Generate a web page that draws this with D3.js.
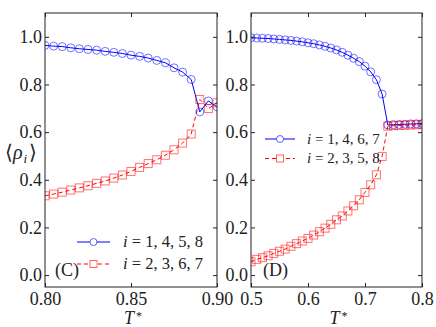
<!DOCTYPE html>
<html>
<head>
<meta charset="utf-8">
<script src="https://cdn.jsdelivr.net/npm/d3@7"></script>
<style>
  body { margin: 0; background: #fff; }
</style>
</head>
<body>
<svg id="chart" width="436" height="327"></svg>
<script>
// panel C data
var tC = [0.800, 0.805, 0.810, 0.815, 0.820, 0.825, 0.830, 0.835, 0.840, 0.845, 0.850,
          0.855, 0.860, 0.865, 0.870, 0.875, 0.880, 0.885, 0.890, 0.895, 0.900];
var blueC = [0.964, 0.961, 0.959, 0.954, 0.950, 0.947, 0.944, 0.939, 0.935, 0.930, 0.923,
             0.918, 0.911, 0.901, 0.891, 0.870, 0.852, 0.821, 0.685, 0.731, 0.706];
var redC = [0.333, 0.340, 0.348, 0.357, 0.366, 0.375, 0.385, 0.395, 0.407, 0.420, 0.435,
            0.452, 0.468, 0.484, 0.503, 0.526, 0.554, 0.592, 0.737, 0.699, 0.723];

// panel D data
var tD = [0.50, 0.51, 0.52, 0.53, 0.54, 0.55, 0.56, 0.57, 0.58, 0.59, 0.60,
          0.61, 0.62, 0.63, 0.64, 0.65, 0.66, 0.67, 0.68, 0.69, 0.70,
          0.71, 0.72, 0.73, 0.74, 0.75, 0.76, 0.77, 0.78, 0.79, 0.80];
var blueD = [0.996, 0.995, 0.994, 0.993, 0.991, 0.989, 0.987, 0.985, 0.982, 0.979, 0.975,
             0.971, 0.966, 0.960, 0.953, 0.945, 0.935, 0.923, 0.910, 0.896, 0.877,
             0.853, 0.820, 0.760, 0.630, 0.631, 0.632, 0.633, 0.634, 0.635, 0.636];
var redD = [0.056, 0.066, 0.073, 0.081, 0.091, 0.100, 0.109, 0.121, 0.132, 0.143, 0.154,
            0.168, 0.182, 0.197, 0.213, 0.232, 0.248, 0.269, 0.291, 0.316, 0.347,
            0.379, 0.421, 0.498, 0.625, 0.627, 0.628, 0.629, 0.630, 0.631, 0.632];

var yTicks = [0.0, 0.2, 0.4, 0.6, 0.8, 1.0];
var xTicksC = [0.80, 0.85, 0.90];
var xTicksD = [0.5, 0.6, 0.7, 0.8];
var legendC = ["1, 4, 5, 8", "2, 3, 6, 7"];
var legendD = ["1, 4, 6, 7", "2, 3, 5, 8"];

var FONT = "Liberation Serif";
var svg = d3.select("#chart");
var top_ = 13, bottom = 287;
var blue = "#0000ff", red = "#ff0000";

var y = d3.scaleLinear().domain([-0.05, 1.1]).range([bottom, top_]);

function txt(sel, size) {
    return sel.append("text").attr("font-family", FONT).attr("font-size", size).attr("fill", "#222");
}

function panel(id, x0, x1, xdom, xticks, xfmt, ts, blueV, redV, labels, leg, tag, tagX) {
    var x = d3.scaleLinear().domain(xdom).range([x0, x1]);
    var g = svg.append("g");

    g.append("clipPath").attr("id", "clip" + id)
        .append("rect").attr("x", x0).attr("y", top_).attr("width", x1 - x0).attr("height", bottom - top_);

    var plot = g.append("g").attr("clip-path", "url(#clip" + id + ")");

    var line = d3.line().x((d, i) => x(ts[i])).y(d => y(d));

    plot.append("path").datum(blueV)
        .attr("d", line).attr("fill", "none").attr("stroke", blue).attr("stroke-width", 1);
    plot.append("path").datum(redV)
        .attr("d", line).attr("fill", "none").attr("stroke", red).attr("stroke-width", 1)
        .attr("stroke-dasharray", "4,3");

    plot.selectAll(".c").data(blueV).join("circle")
        .attr("cx", (d, i) => x(ts[i])).attr("cy", d => y(d)).attr("r", 4)
        .attr("fill", "none").attr("stroke", blue).attr("stroke-opacity", 0.55);
    plot.selectAll(".s").data(redV).join("rect")
        .attr("x", (d, i) => x(ts[i]) - 4).attr("y", d => y(d) - 4)
        .attr("width", 8).attr("height", 8)
        .attr("fill", "none").attr("stroke", red).attr("stroke-opacity", 0.55);

    // axes, ticks inward on all sides
    g.append("g").attr("transform", "translate(0," + bottom + ")")
        .call(d3.axisBottom(x).tickValues(xticks).tickFormat(xfmt).tickSize(-4).tickPadding(5));
    g.append("g").attr("transform", "translate(0," + top_ + ")")
        .call(d3.axisTop(x).tickValues(xticks).tickFormat("").tickSize(-4));
    g.append("g").attr("transform", "translate(" + x0 + ",0)")
        .call(d3.axisLeft(y).tickValues(yTicks).tickFormat(d3.format(".1f")).tickSize(-4).tickPadding(3));
    g.append("g").attr("transform", "translate(" + x1 + ",0)")
        .call(d3.axisRight(y).tickValues(yTicks).tickFormat("").tickSize(-4));
    g.selectAll(".domain").remove();
    g.selectAll("g").attr("font-family", FONT);
    g.selectAll(".tick line").attr("stroke", "#222");
    g.selectAll(".tick text").attr("font-family", FONT).attr("font-size", 18).attr("fill", "#222");

    g.append("rect").attr("x", x0).attr("y", top_).attr("width", x1 - x0).attr("height", bottom - top_)
        .attr("fill", "none").attr("stroke", "#222").attr("stroke-width", 1);

    // legend (no frame)
    var lg = g.append("g");
    var half = leg.len / 2;
    [0, 1].forEach(k => {
        var ly = leg.y + k * leg.gap;
        var col = k == 0 ? blue : red;
        lg.append("line").attr("x1", leg.x).attr("x2", leg.x + leg.len).attr("y1", ly).attr("y2", ly)
            .attr("stroke", col).attr("stroke-width", 1)
            .attr("stroke-dasharray", k == 0 ? null : "4,3");
        if (k == 0) {
            lg.append("circle").attr("cx", leg.x + half).attr("cy", ly).attr("r", 3.5)
                .attr("fill", "#fff").attr("stroke", col).attr("stroke-opacity", 0.6);
        } else {
            lg.append("rect").attr("x", leg.x + half - 3.5).attr("y", ly - 3.5).attr("width", 7).attr("height", 7)
                .attr("fill", "#fff").attr("stroke", col).attr("stroke-opacity", 0.6);
        }
        var t = txt(lg, leg.size).attr("x", leg.tx).attr("y", ly + leg.size * 0.3);
        t.append("tspan").attr("font-style", "italic").text("i");
        t.append("tspan").text(" = " + labels[k]);
    });

    txt(g, 18).attr("x", tagX).attr("y", 276).text(tag);

    var cx = (x0 + x1) / 2;
    txt(g, 18).attr("x", cx + 3).attr("y", 324).attr("text-anchor", "end")
        .attr("font-style", "italic").text("T");
    txt(g, 12).attr("x", cx + 5).attr("y", 320).text("*");
}

panel("C", 45, 217, [0.80, 0.90], xTicksC, d3.format(".2f"), tC, blueC, redC, legendC,
      {x: 77, len: 33, y: 242, gap: 22, tx: 123, size: 16.5}, "(C)", 55);
panel("D", 251, 422, [0.5, 0.8], xTicksD, d3.format(".1f"), tD, blueD, redD, legendD,
      {x: 265, len: 30, y: 139, gap: 19.5, tx: 307, size: 15}, "(D)", 263);

// y label
var yl = txt(svg, 20).attr("x", 5).attr("y", 159);
yl.append("tspan").text("\u27E8");
yl.append("tspan").attr("font-style", "italic").text("\u03C1");
yl.append("tspan").attr("dy", 4).attr("dx", 1).attr("font-size", 13).attr("font-style", "italic").text("i");
yl.append("tspan").attr("dy", -4).attr("dx", 2).text("\u27E9");
</script>
</body>
</html>
